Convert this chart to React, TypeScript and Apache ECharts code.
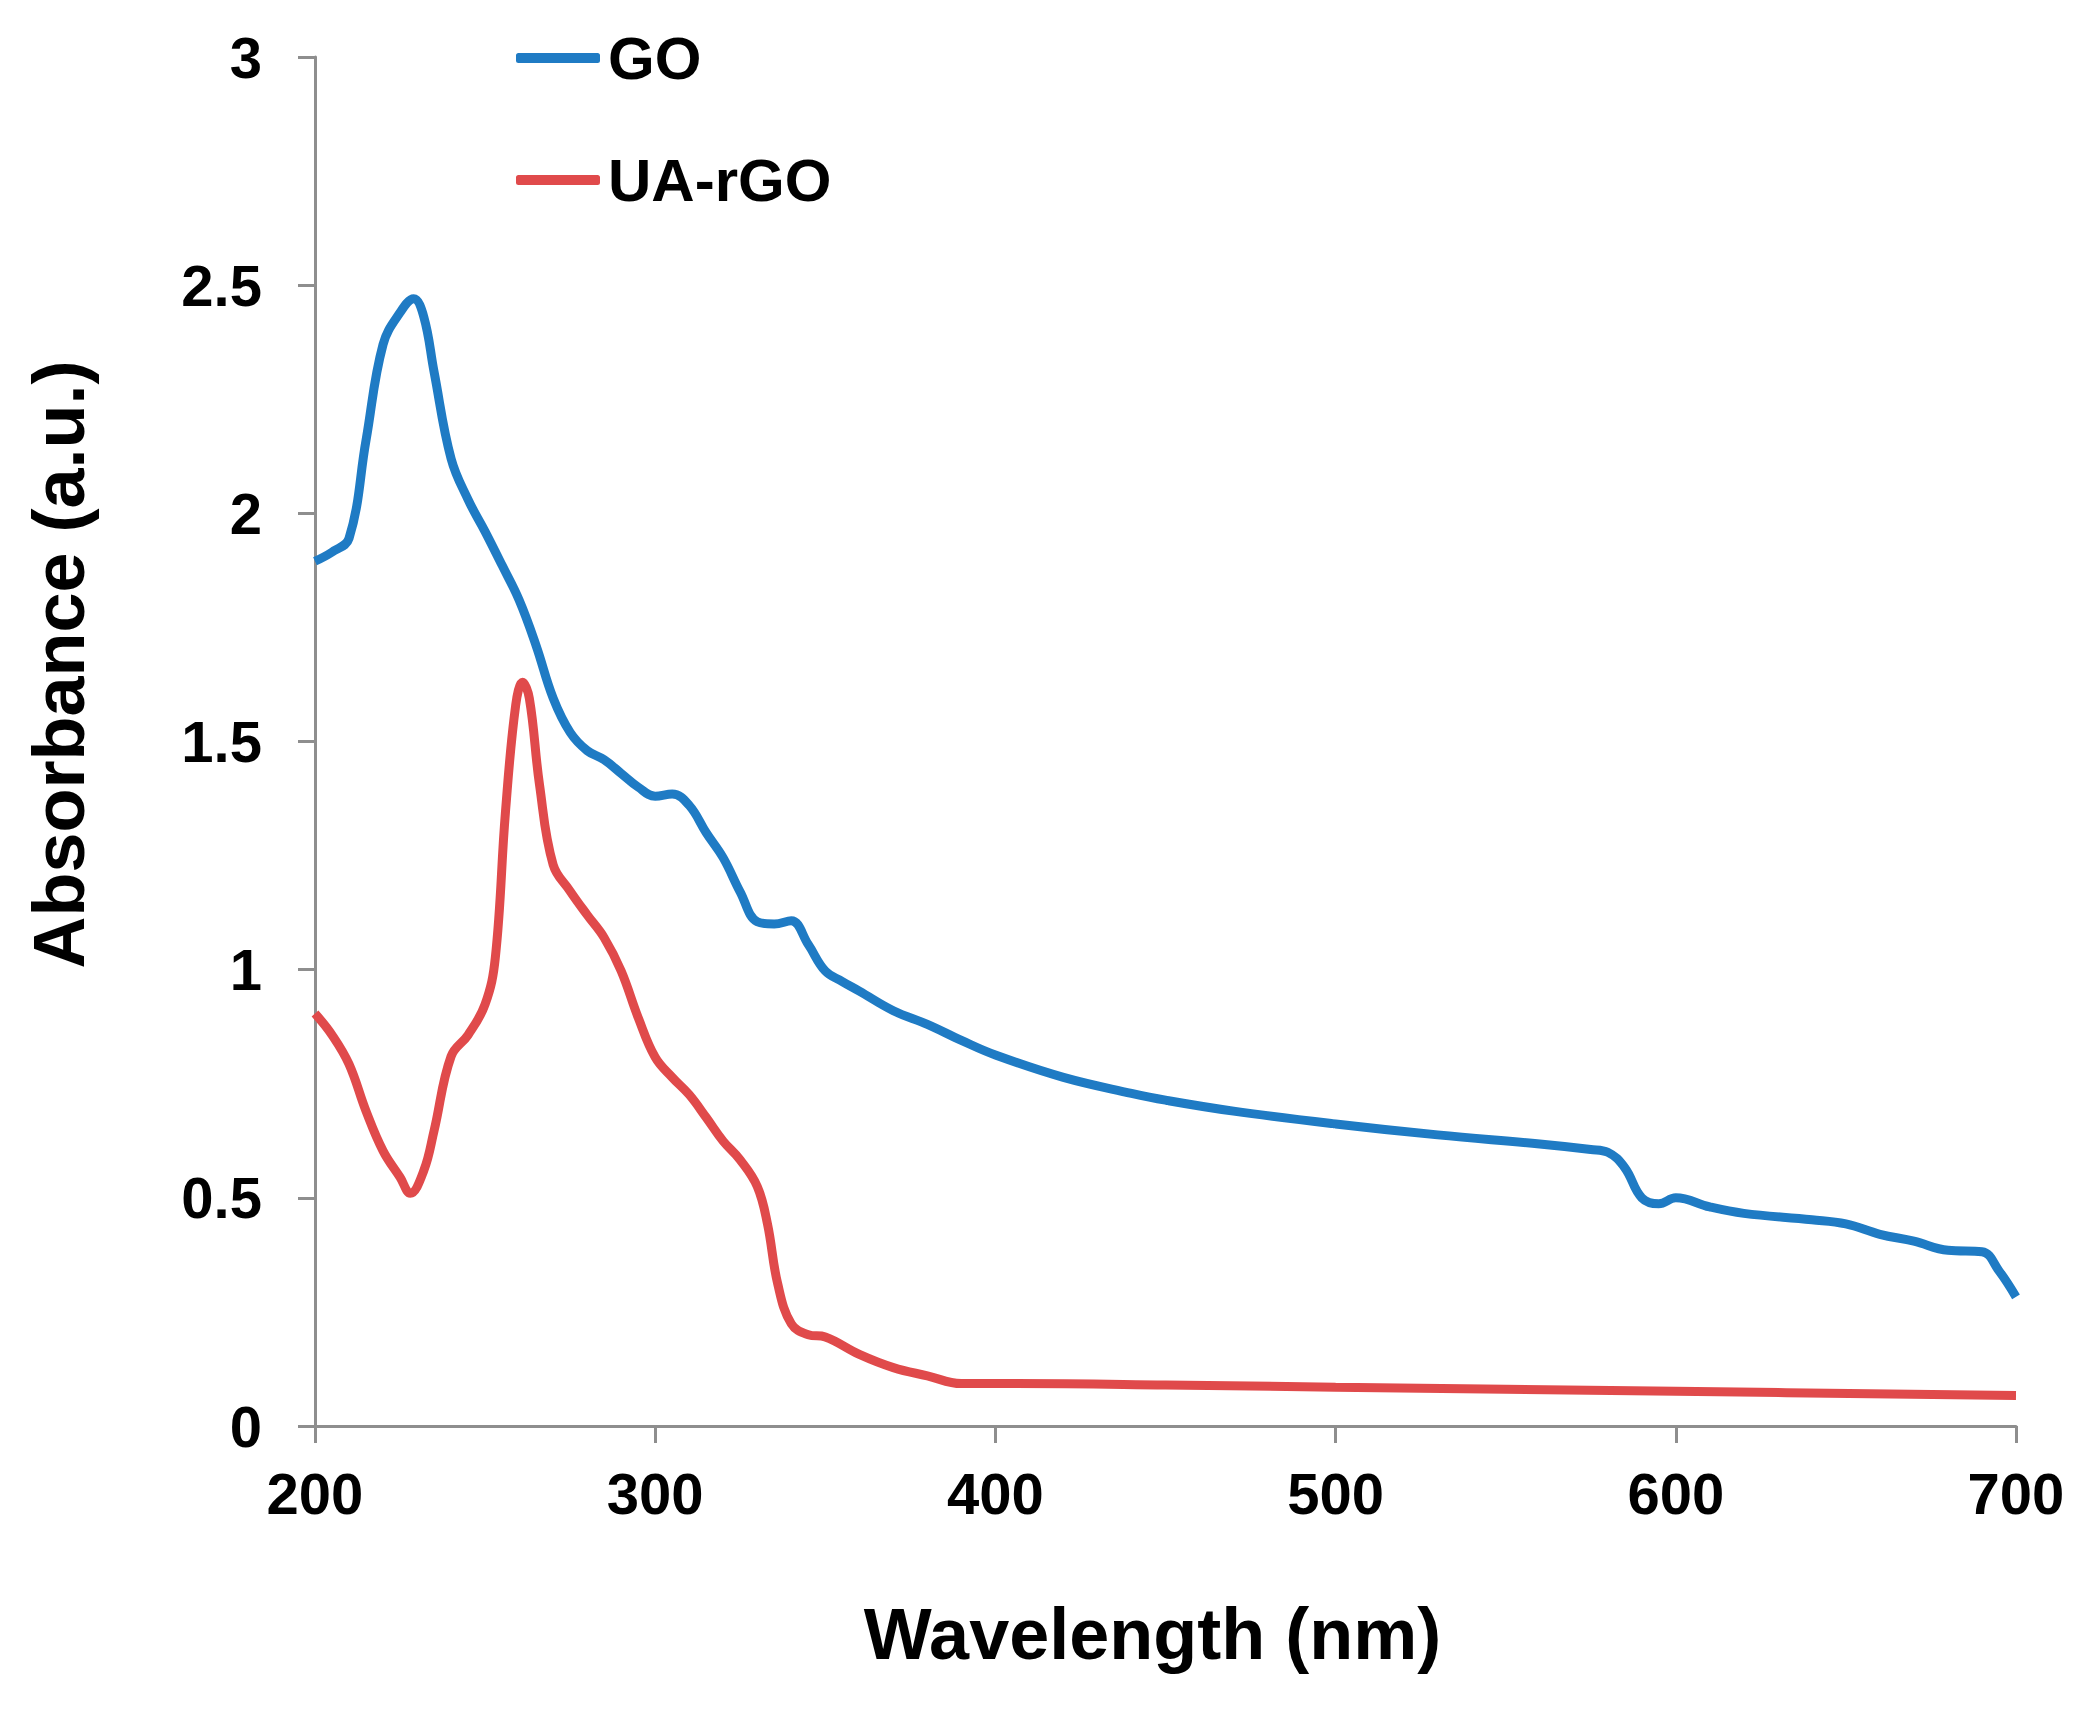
import { useEffect, useRef } from "react";
import * as echarts from "echarts";

// wavelength (nm) / absorbance pairs
const goWavelength = [
  200, 205, 210, 215, 220, 225, 229, 232, 235, 240, 245, 250, 255, 260, 265, 270,
  275, 280, 285, 290, 295, 300, 305, 310, 315, 320, 325, 330, 335, 340, 345, 350,
  355, 360, 370, 380, 390, 400, 420, 440, 450, 470, 500, 530, 560, 575, 580, 585,
  590, 595, 600, 610, 620, 640, 650, 660, 670, 680, 690, 695, 700,
];
const goAbsorbance = [
  1.895, 1.915, 1.945, 2.16, 2.37, 2.44, 2.47, 2.43, 2.31, 2.12, 2.03, 1.96, 1.886,
  1.81, 1.71, 1.595, 1.52, 1.48, 1.46, 1.43, 1.4, 1.38, 1.385, 1.36, 1.3, 1.245,
  1.17, 1.105, 1.1, 1.107, 1.055, 0.997, 0.974, 0.953, 0.91, 0.88, 0.845, 0.813,
  0.764, 0.729, 0.714, 0.69, 0.662, 0.638, 0.618, 0.606, 0.6, 0.566, 0.5, 0.487,
  0.5, 0.48, 0.466, 0.452, 0.443, 0.42, 0.405, 0.385, 0.382, 0.34, 0.283,
];

const rgoWavelength = [
  200, 205, 210, 215, 220, 225, 228, 232, 235, 240, 245, 250, 253, 256, 259, 261,
  263, 266, 270, 275, 280, 285, 290, 295, 300, 305, 310, 315, 320, 325, 330, 333,
  336, 340, 345, 350, 360, 370, 380, 390, 400, 450, 500, 600, 700,
];
const rgoAbsorbance = [
  0.904, 0.857, 0.793, 0.69, 0.603, 0.545, 0.51, 0.56, 0.647, 0.81, 0.857, 0.924,
  1.026, 1.347, 1.58, 1.63, 1.595, 1.405, 1.23, 1.172, 1.12, 1.07, 0.997, 0.895,
  0.808, 0.764, 0.726, 0.676, 0.624, 0.583, 0.525, 0.443, 0.312, 0.224, 0.2, 0.195,
  0.157, 0.128, 0.11, 0.093, 0.093, 0.09, 0.085, 0.076, 0.067,
];

const seriesNames = ["GO", "UA-rGO"];
const seriesColors = ["#1f7bc4", "#e04a4b"];

const FONT = "'Liberation Sans', Arial, sans-serif";

const pair = (xs: number[], ys: number[]) => xs.map((x, i) => [x, ys[i]]);

export default function App() {
  const chartRef = useRef<HTMLDivElement>(null);

  useEffect(() => {
    if (!chartRef.current) return;
    const chart = echarts.init(chartRef.current, undefined, { renderer: "svg" });

    chart.setOption({
      animation: false,
      backgroundColor: "#ffffff",
      grid: { left: 315, right: 68, top: 57, bottom: 290, containLabel: false },
      legend: {
        orient: "vertical",
        left: 511,
        top: 23,
        itemWidth: 84,
        itemHeight: 10,
        itemGap: 62,
        icon: "roundRect",
        data: seriesNames,
        textStyle: {
          fontFamily: FONT,
          fontWeight: "bold",
          fontSize: 60,
          color: "#000",
          padding: [0, 0, 0, 3],
        },
      },
      xAxis: {
        type: "value",
        min: 200,
        max: 700,
        interval: 100,
        name: "Wavelength (nm)",
        nameLocation: "middle",
        nameGap: 172,
        nameTextStyle: {
          fontFamily: FONT,
          fontWeight: "bold",
          fontSize: 72,
          color: "#000",
          padding: [0, 26, 0, 0],
        },
        axisLine: { lineStyle: { color: "#8e8e8e", width: 3 } },
        axisTick: { show: true, length: 17, lineStyle: { color: "#8e8e8e", width: 3 } },
        axisLabel: { fontFamily: FONT, fontWeight: "bold", fontSize: 58, color: "#000", margin: 38 },
        splitLine: { show: false },
      },
      yAxis: {
        type: "value",
        min: 0,
        max: 3,
        interval: 0.5,
        name: "Absorbance (a.u.)",
        nameLocation: "middle",
        nameGap: 220,
        nameTextStyle: {
          fontFamily: FONT,
          fontWeight: "bold",
          fontSize: 72,
          color: "#000",
          padding: [0, 0, 0, 154],
        },
        axisLine: { show: true, lineStyle: { color: "#8e8e8e", width: 3 } },
        axisTick: { show: true, length: 17, lineStyle: { color: "#8e8e8e", width: 3 } },
        axisLabel: { fontFamily: FONT, fontWeight: "bold", fontSize: 58, color: "#000", margin: 53 },
        splitLine: { show: false },
      },
      series: [
        {
          name: seriesNames[0],
          type: "line",
          data: pair(goWavelength, goAbsorbance),
          smooth: 0.4,
          showSymbol: false,
          color: seriesColors[0],
          lineStyle: { width: 9, color: seriesColors[0] },
        },
        {
          name: seriesNames[1],
          type: "line",
          data: pair(rgoWavelength, rgoAbsorbance),
          smooth: 0.4,
          showSymbol: false,
          color: seriesColors[1],
          lineStyle: { width: 9, color: seriesColors[1] },
        },
      ],
    });

    return () => chart.dispose();
  }, []);

  return (
    <div
      ref={chartRef}
      style={{ position: "fixed", left: 0, top: 0, width: "2084px", height: "1716px" }}
    />
  );
}
